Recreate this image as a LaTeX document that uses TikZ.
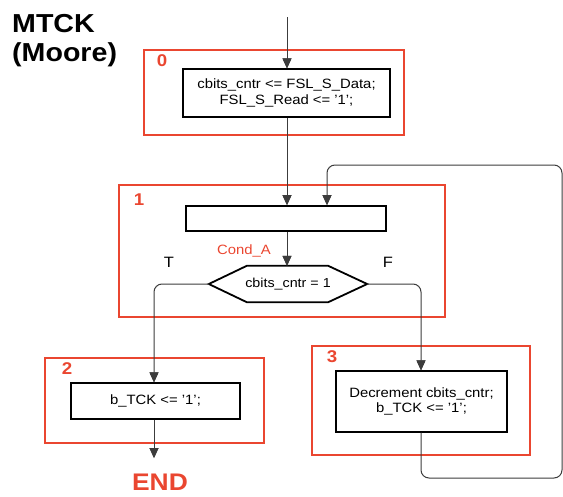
\documentclass[tikz,border=0pt]{standalone}
\usepackage{fontspec}
\setmainfont{Liberation Sans}[FakeStretch=1.1]
\usetikzlibrary{arrows.meta}
\definecolor{fsmred}{RGB}{234,70,48}
\definecolor{linegray}{RGB}{60,60,60}
\tikzset{
  statebox/.style={draw=fsmred, line width=2pt, minimum width=#1, inner sep=0pt},
  actbox/.style={draw=black, line width=1.3pt, inner sep=0pt, align=center, font=\fontsize{13.5}{15.5}\selectfont},
  statenum/.style={text=fsmred, font=\bfseries\fontsize{17}{17}\selectfont, inner sep=0pt},
  flow/.style={draw=linegray, line width=1pt, rounded corners=8pt},
  tip/.style={-{Triangle[length=10pt,width=9pt]}},
  headfill/.style={fill=linegray},
  tf/.style={font=\fontsize{15}{15}\selectfont, inner sep=0pt}
}
\newcommand\downhead[1]{\fill[headfill] (#1) -- ++(-4.5,-10) -- ++(9,0) -- cycle;}
\begin{document}
\begin{tikzpicture}[x=1pt,y=-1pt]
\useasboundingbox (0,0) rectangle (563,496);
% title
\node[anchor=base west, inner sep=0pt, font=\bfseries\fontsize{26}{26}\selectfont] (t1) at (12,32) {MTCK};
\node[anchor=base west, inner sep=0pt, font=\bfseries\fontsize{26}{26}\selectfont] (t2) at (12,61) {(Moore)};
% state 0
\node[statebox=260pt, minimum height=85pt] (s0) at (274,92.5) {};
\node[statenum] (n0) at (162,61) {0};
\node[actbox, minimum width=207pt, minimum height=48pt] (b0) at (286.5,93)
  {cbits\_cntr <= FSL\_S\_Data;\\FSL\_S\_Read <= '1';};
\coordinate (start) at (287,17);
\coordinate (h0) at (start |- b0.north);
\draw[flow, tip] (start) -- (h0);
\downhead{h0}
% state 1
\node[statebox=326pt, minimum height=132pt] (s1) at (282,251) {};
\node[statenum] (n1) at (139,200) {1};
\node[draw=black, line width=1.8pt, minimum width=200pt, minimum height=25pt, inner sep=0pt] (r1) at (286,218.5) {};
\node[inner sep=0pt, minimum width=158pt, minimum height=36pt, font=\fontsize{13}{15}\selectfont] (hex) at (288,284) {cbits\_cntr = 1};
\draw[black, line width=1.8pt, line join=miter]
  (hex.west) -- ([xshift=38pt]hex.north west) -- ([xshift=-39pt]hex.north east) -- (hex.east)
  -- ([xshift=-39pt]hex.south east) -- ([xshift=38pt]hex.south west) -- cycle;
\node[text=fsmred, font=\fontsize{13.5}{13.5}\selectfont, inner sep=0pt] (cond) at (244,251) {Cond\_A};
\node[tf] (T) at (169,262) {T};
\node[tf] (F) at (388,262) {F};
\coordinate (h1) at (start |- r1.north);
\draw[flow, tip] (b0.south -| start) -- (h1);
\downhead{h1}
\coordinate (h2) at (start |- hex.north);
\draw[flow, tip] (r1.south -| start) -- (h2);
\downhead{h2}
% state 2
\node[statebox=219pt, minimum height=85pt] (s2) at (154.5,400.5) {};
\node[statenum] (n2) at (67,369) {2};
\node[actbox, minimum width=169pt, minimum height=36pt] (b2) at (155.5,401) {b\_TCK <= '1';};
\coordinate (tc) at (154,284);
\coordinate (h3) at (tc |- b2.north);
\draw[flow, tip] (hex.west) -- (tc) -- (h3);
\downhead{h3}
\coordinate (endtip) at (154,458);
\draw[flow, tip] (b2.south -| endtip) -- (endtip);
\downhead{endtip}
\node[text=fsmred, font=\bfseries\fontsize{24}{24}\selectfont, inner sep=0pt] (END) at (160,482) {END};
% state 3
\node[statebox=218pt, minimum height=109pt] (s3) at (421,400.5) {};
\node[statenum] (n3) at (332,357) {3};
\node[actbox, minimum width=171pt, minimum height=61pt] (b3) at (421.5,401.5)
  {Decrement cbits\_cntr;\\b\_TCK <= '1';};
\coordinate (fc) at (421,284);
\coordinate (h4) at (fc |- b3.north);
\draw[flow, tip] (hex.east) -- (fc) -- (h4);
\downhead{h4}
% loop back
\coordinate (l1) at (421,478);
\coordinate (l2) at (562,478);
\coordinate (l3) at (562,165);
\coordinate (l4) at (327,165);
\coordinate (h5) at (l4 |- r1.north);
\draw[flow, tip] (b3.south -| l1) -- (l1) -- (l2) -- (l3) -- (l4) -- (h5);
\downhead{h5}
\end{tikzpicture}
\end{document}
